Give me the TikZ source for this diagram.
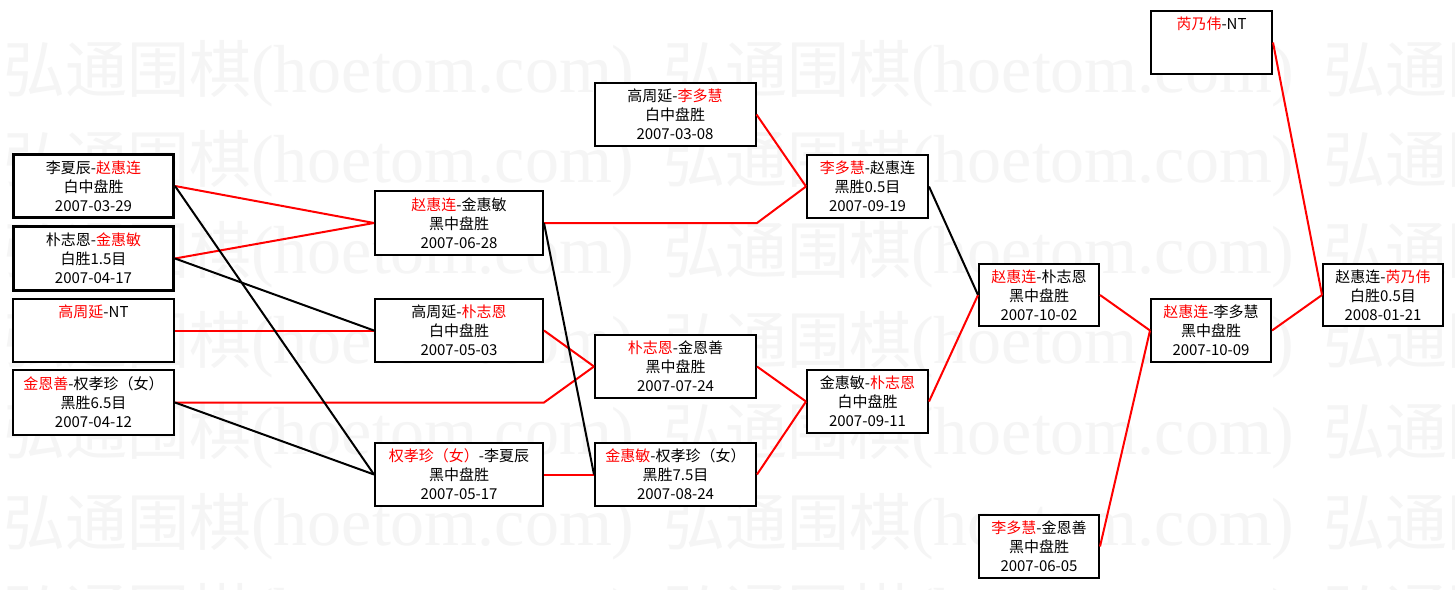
\documentclass[tikz,border=0pt]{standalone}
\usepackage{fontspec}
\setmainfont{Noto Sans CJK SC}
\newfontfamily\wmserif{Liberation Serif}
\newcommand\rt[1]{\textcolor{red}{#1}}
\newcommand\wmtext{{\fontsize{62}{62}\selectfont 弘通围棋}{\wmserif\fontsize{68}{68}\selectfont (hoetom.com)}}
\begin{document}
\begin{tikzpicture}[x=1pt,y=-1pt,
  box/.style={draw=black, line width=2pt, fill=white, inner sep=0pt, align=center, font=\fontsize{15}{19}\selectfont},
  thickbox/.style={box, line width=3pt},
  rl/.style={draw=red, line width=2pt},
  bl/.style={draw=black, line width=2pt},
  wm/.style={text=black!4, inner sep=0pt, anchor=base west}]
\useasboundingbox (0,0) rectangle (1455,589);
\fill[white] (0,0) rectangle (1455,589);
\begin{scope}
\clip (0,0) rectangle (1455,589);
\foreach \r in {0,...,6}{
  \foreach \c in {0,1,2}{
    \node[wm] (wm-\r-\c) at ({3+660*\c},{92+90.6*\r}) {\wmtext};
  }
}
\end{scope}
% column A
\node[thickbox, minimum width=160pt, minimum height=63pt] (A1) at (93.5,186) {李夏辰-\rt{赵惠连}\\白中盘胜\\2007-03-29};
\node[thickbox, minimum width=160pt, minimum height=64pt] (A2) at (93.5,258.5) {朴志恩-\rt{金惠敏}\\白胜1.5目\\2007-04-17};
\node[box, minimum width=161pt, minimum height=63pt] (A3) at (93.5,330.5) {\rt{高周延}-NT\\{}\\{}};
\node[box, minimum width=161pt, minimum height=65pt] (A4) at (93.5,402.5) {\rt{金恩善}-权孝珍（女）\\黑胜6.5目\\2007-04-12};
% column B
\node[box, minimum width=168pt, minimum height=64pt] (B1) at (459,223) {\rt{赵惠连}-金惠敏\\黑中盘胜\\2007-06-28};
\node[box, minimum width=168pt, minimum height=63pt] (B2) at (459,330.5) {高周延-\rt{朴志恩}\\白中盘胜\\2007-05-03};
\node[box, minimum width=168pt, minimum height=63pt] (B3) at (459,474.5) {\rt{权孝珍（女）}-李夏辰\\黑中盘胜\\2007-05-17};
% column C
\node[box, minimum width=161pt, minimum height=63pt] (C1) at (675,114.5) {高周延-\rt{李多慧}\\白中盘胜\\2007-03-08};
\node[box, minimum width=161pt, minimum height=63pt] (C2) at (675.5,366.5) {\rt{朴志恩}-金恩善\\黑中盘胜\\2007-07-24};
\node[box, minimum width=161pt, minimum height=63pt] (C3) at (675.5,474.5) {\rt{金惠敏}-权孝珍（女）\\黑胜7.5目\\2007-08-24};
% column D
\node[box, minimum width=121pt, minimum height=63pt] (D1) at (867.5,186.5) {\rt{李多慧}-赵惠连\\黑胜0.5目\\2007-09-19};
\node[box, minimum width=121pt, minimum height=63pt] (D2) at (867.5,401.5) {金惠敏-\rt{朴志恩}\\白中盘胜\\2007-09-11};
% column E
\node[box, minimum width=120pt, minimum height=62pt] (E1) at (1039,295) {\rt{赵惠连}-朴志恩\\黑中盘胜\\2007-10-02};
\node[box, minimum width=120pt, minimum height=63pt] (E2) at (1039,546.5) {\rt{李多慧}-金恩善\\黑中盘胜\\2007-06-05};
% column F
\node[box, minimum width=120pt, minimum height=63pt] (F1) at (1211,330.5) {\rt{赵惠连}-李多慧\\黑中盘胜\\2007-10-09};
\node[box, minimum width=121pt, minimum height=63pt] (G0) at (1211.5,42.5) {\rt{芮乃伟}-NT\\{}\\{}};
% column G
\node[box, minimum width=120pt, minimum height=62pt] (G1) at (1383,295) {赵惠连-\rt{芮乃伟}\\白胜0.5目\\2008-01-21};
% red connectors
\draw[rl] (A1.east) -- (B1.west);
\draw[rl] (A2.east) -- (B1.west);
\draw[rl] (A3.east) -- (B2.west);
\draw[rl] (A4.east) -- (A4.east -| B2.east) -- (C2.west);
\draw[rl] (B2.east) -- (C2.west);
\draw[rl] (B1.east) -- (B1.east -| C2.east) -- (D1.west);
\draw[rl] (B3.east) -- (C3.west);
\draw[rl] (C1.east) -- (D1.west);
\draw[rl] (C2.east) -- (D2.west);
\draw[rl] (C3.east) -- (D2.west);
\draw[rl] (D2.east) -- (E1.west);
\draw[rl] (E1.east) -- (F1.west);
\draw[rl] (E2.east) -- (F1.west);
\draw[rl] (F1.east) -- (G1.west);
\draw[rl] (G0.east) -- (G1.west);
% black connectors
\draw[bl] (A1.east) -- (B3.west);
\draw[bl] (A2.east) -- (B2.west);
\draw[bl] (A4.east) -- (B3.west);
\draw[bl] (B1.east) -- (C3.west);
\draw[bl] (D1.east) -- (E1.west);
\end{tikzpicture}
\end{document}
